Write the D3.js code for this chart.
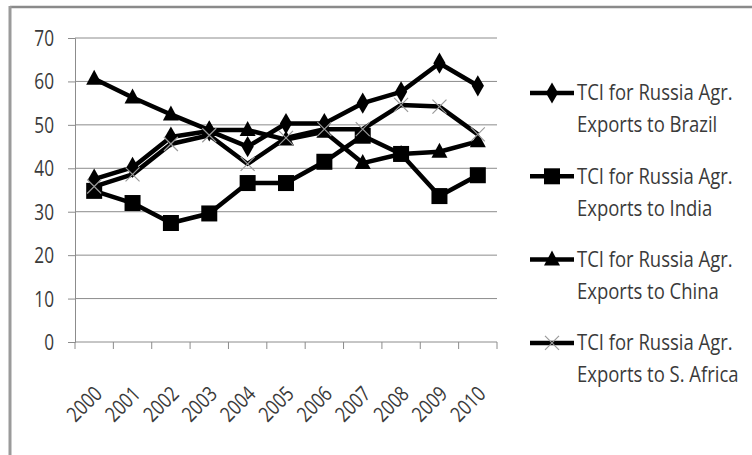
<!DOCTYPE html>
<html>
<head>
<meta charset="utf-8">
<script src="https://cdn.jsdelivr.net/npm/d3@7"></script>
<style>
  html, body { margin: 0; padding: 0; background: #fff; }
  svg { display: block; }
  text { font-family: "Open Sans", "Noto Sans", sans-serif; fill: #3a3a3a; }
</style>
</head>
<body>
<svg id="chart" width="752" height="455"></svg>
<script>
// Years on the category axis
const years = ["2000","2001","2002","2003","2004","2005","2006","2007","2008","2009","2010"];

// Trade complementarity index series
const brazil   = [37.5, 40.2, 47.2, 48.6, 45.0, 50.3, 50.3, 55.0, 57.6, 64.2, 59.0];
const india    = [34.8, 32.0, 27.4, 29.6, 36.6, 36.6, 41.5, 47.5, 43.3, 33.6, 38.4];
const china    = [60.6, 56.3, 52.4, 48.8, 48.8, 46.6, 48.4, 41.2, 43.3, 43.8, 46.2];
const safrica  = [35.8, 38.6, 45.6, 47.6, 41.0, 47.0, 49.0, 49.0, 54.6, 54.2, 47.8];

const seriesNames = [
  ["TCI for Russia Agr.", "Exports to Brazil"],
  ["TCI for Russia Agr.", "Exports to India"],
  ["TCI for Russia Agr.", "Exports to China"],
  ["TCI for Russia Agr.", "Exports to S. Africa"]
];
const yTicks = [0, 10, 20, 30, 40, 50, 60, 70];

const series = [
  { name: seriesNames[0], values: brazil,  marker: "diamond" },
  { name: seriesNames[1], values: india,   marker: "square" },
  { name: seriesNames[2], values: china,   marker: "triangle" },
  { name: seriesNames[3], values: safrica, marker: "cross" }
];

const FONT = 21;      // label font size
const SQUEEZE = 0.82; // narrow glyphs horizontally

const svg = d3.select("#chart");

// outer frame (top and left edges)
svg.append("line").attr("x1", 10).attr("x2", 752).attr("y1", 7).attr("y2", 7)
  .attr("stroke", "#8a8a8a").attr("stroke-width", 2.5);
svg.append("line").attr("x1", 10).attr("x2", 10).attr("y1", 6).attr("y2", 455)
  .attr("stroke", "#9a9a9a").attr("stroke-width", 3);

const x = d3.scaleBand().domain(years).range([75, 497]);
const y = d3.scaleLinear().domain([0, 70]).range([342, 38]);
const cx = d => x(d) + x.bandwidth() / 2;

// horizontal gridlines
svg.append("g").selectAll("line").data(yTicks.filter(t => t > 0)).join("line")
  .attr("x1", 75).attr("x2", 497)
  .attr("y1", d => y(d)).attr("y2", d => y(d))
  .attr("stroke", "#8c8c8c").attr("stroke-width", 1);

// y axis
const yAxis = svg.append("g").attr("transform", "translate(75,0)")
  .call(d3.axisLeft(y).tickValues(yTicks).tickSize(7).tickPadding(0).tickFormat(d3.format("d")));
yAxis.select(".domain").attr("stroke", "#8c8c8c");
yAxis.selectAll(".tick line").attr("stroke", "#8c8c8c");
yAxis.selectAll(".tick text")
  .attr("x", null)
  .attr("transform", `translate(-21,0) scale(${SQUEEZE},1)`)
  .attr("dy", "0.36em")
  .attr("font-size", FONT).attr("fill", "#3a3a3a")
  .style("font-family", "'Open Sans', 'Noto Sans', sans-serif");

// x axis with ticks between categories
const xAxisG = svg.append("g").attr("transform", "translate(0,342)");
xAxisG.append("line").attr("x1", 75).attr("x2", 497).attr("y1", 0).attr("y2", 0)
  .attr("stroke", "#8c8c8c");
xAxisG.selectAll("line.tk").data(years.concat(["end"])).join("line").attr("class", "tk")
  .attr("x1", (d, i) => i < years.length ? x(d) : x.range()[1])
  .attr("x2", (d, i) => i < years.length ? x(d) : x.range()[1])
  .attr("y1", 0).attr("y2", 7).attr("stroke", "#8c8c8c");
xAxisG.selectAll("text").data(years).join("text")
  .attr("transform", d => `translate(${cx(d) + 4},${48}) rotate(-45) scale(${SQUEEZE},1)`)
  .attr("text-anchor", "end").attr("dy", "0.35em")
  .attr("font-size", FONT).text(d => d);

// marker shapes
function drawMarker(g, type, px, py) {
  if (type === "diamond") {
    g.append("path").attr("d", d3.symbol(d3.symbolDiamond, 130)()).attr("transform", `translate(${px},${py})`)
      .attr("fill", "#000");
  } else if (type === "square") {
    g.append("rect").attr("x", px - 8).attr("y", py - 8).attr("width", 16).attr("height", 16).attr("fill", "#000");
  } else if (type === "triangle") {
    g.append("path").attr("d", `M${px},${py - 9}L${px + 8},${py + 6}L${px - 8},${py + 6}Z`).attr("fill", "#000");
  } else {
    g.append("path").attr("d", `M${px - 7},${py - 7}L${px + 7},${py + 7}M${px - 7},${py + 7}L${px + 7},${py - 7}`)
      .attr("stroke", "#9a9a9a").attr("stroke-width", 1.2).attr("fill", "none");
  }
}

const line = d3.line().x((d, i) => cx(years[i])).y(d => y(d));

const plot = svg.append("g");
series.forEach(s => {
  plot.append("path").datum(s.values).attr("d", line)
    .attr("fill", "none").attr("stroke", "#000").attr("stroke-width", 4.5)
    .attr("stroke-linejoin", "round");
});
series.forEach(s => {
  const g = plot.append("g");
  s.values.forEach((v, i) => drawMarker(g, s.marker, cx(years[i]), y(v)));
});

// legend
const legend = svg.append("g");
series.forEach((s, i) => {
  const ly = 93 + i * 83.3;
  const g = legend.append("g");
  g.append("line").attr("x1", 530).attr("x2", 574).attr("y1", ly).attr("y2", ly)
    .attr("stroke", "#000").attr("stroke-width", 4.5);
  drawMarker(g, s.marker, 552, ly);
  s.name.forEach((t, k) => {
    g.append("text")
      .attr("transform", `translate(577,${ly + k * 32}) scale(${SQUEEZE + 0.06},1)`)
      .attr("dy", "0.35em")
      .attr("font-size", FONT).text(t);
  });
});
</script>
</body>
</html>
